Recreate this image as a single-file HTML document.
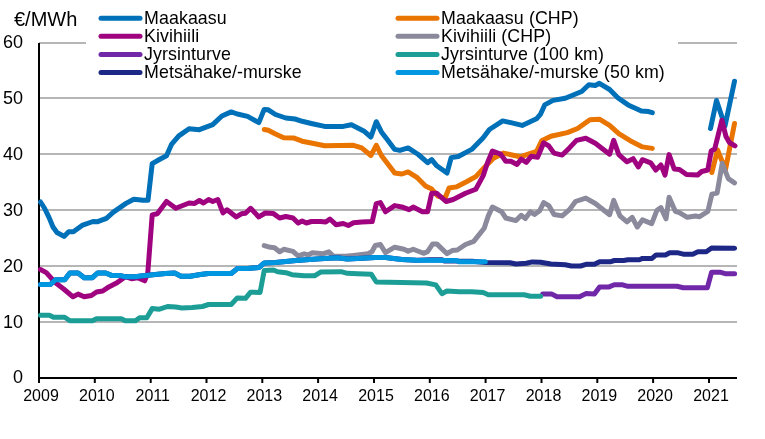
<!DOCTYPE html>
<html><head><meta charset="utf-8"><style>
html,body{margin:0;padding:0;background:#fff;}
svg{display:block;font-family:"Liberation Sans",sans-serif;will-change:transform;}
</style></head><body>
<svg width="765" height="439" viewBox="0 0 765 439">
<rect width="765" height="439" fill="#fff"/>
<g><line x1="39" y1="322.0" x2="737" y2="322.0" stroke="#b6b6b6" stroke-width="2"/>
<line x1="39" y1="266.0" x2="737" y2="266.0" stroke="#b6b6b6" stroke-width="2"/>
<line x1="39" y1="210.0" x2="737" y2="210.0" stroke="#b6b6b6" stroke-width="2"/>
<line x1="39" y1="154.0" x2="737" y2="154.0" stroke="#b6b6b6" stroke-width="2"/>
<line x1="39" y1="98.0" x2="737" y2="98.0" stroke="#b6b6b6" stroke-width="2"/>
<line x1="39" y1="43.0" x2="737" y2="43.0" stroke="#b6b6b6" stroke-width="2"/>
</g>
<line x1="39" y1="43" x2="39" y2="378" stroke="#000" stroke-width="2"/>
<line x1="38" y1="378" x2="737" y2="378" stroke="#000" stroke-width="2"/>
<g><line x1="39.0" y1="377" x2="39.0" y2="383" stroke="#000" stroke-width="2"/>
<line x1="94.8" y1="377" x2="94.8" y2="383" stroke="#000" stroke-width="2"/>
<line x1="150.7" y1="377" x2="150.7" y2="383" stroke="#000" stroke-width="2"/>
<line x1="206.5" y1="377" x2="206.5" y2="383" stroke="#000" stroke-width="2"/>
<line x1="262.3" y1="377" x2="262.3" y2="383" stroke="#000" stroke-width="2"/>
<line x1="318.1" y1="377" x2="318.1" y2="383" stroke="#000" stroke-width="2"/>
<line x1="374.0" y1="377" x2="374.0" y2="383" stroke="#000" stroke-width="2"/>
<line x1="429.8" y1="377" x2="429.8" y2="383" stroke="#000" stroke-width="2"/>
<line x1="485.6" y1="377" x2="485.6" y2="383" stroke="#000" stroke-width="2"/>
<line x1="541.5" y1="377" x2="541.5" y2="383" stroke="#000" stroke-width="2"/>
<line x1="597.3" y1="377" x2="597.3" y2="383" stroke="#000" stroke-width="2"/>
<line x1="653.1" y1="377" x2="653.1" y2="383" stroke="#000" stroke-width="2"/>
<line x1="709.0" y1="377" x2="709.0" y2="383" stroke="#000" stroke-width="2"/>
</g>
<g><path d="M40.5 202.0 L44.4 208.0 L49.1 217.6 L53.0 227.0 L57.0 232.5 L64.0 236.4 L68.7 231.7 L73.4 231.7 L82.0 225.4 L93.0 221.5 L97.7 221.7 L106.4 218.3 L113.4 212.1 L126.0 203.4 L133.8 199.2 L143.2 200.3 L148.0 200.3 L152.2 163.6 L159.4 159.5 L166.5 155.8 L171.7 144.1 L178.8 135.9 L189.1 128.7 L199.4 129.7 L212.7 124.6 L221.9 116.0 L231.2 111.9 L237.3 114.0 L247.6 116.4 L258.8 122.6 L264.2 109.4 L268.3 109.8 L275.5 114.5 L285.8 118.0 L295.0 119.0 L302.2 121.3 L312.4 123.7 L324.7 126.4 L343.2 126.4 L351.4 124.7 L363.7 130.9 L370.9 137.0 L376.3 121.7 L381.4 131.9 L387.6 140.1 L394.7 149.4 L399.9 150.4 L408.1 147.9 L418.3 154.5 L427.6 162.7 L431.7 159.6 L436.8 165.8 L447.0 173.0 L451.2 157.6 L458.3 156.5 L471.7 149.4 L483.2 137.7 L489.4 129.5 L502.7 120.9 L511.9 122.9 L522.2 125.4 L536.5 118.8 L540.6 114.1 L544.7 104.9 L553.0 100.4 L565.3 98.3 L581.7 91.5 L588.8 84.8 L595.3 85.4 L599.4 83.3 L609.6 89.5 L617.8 97.7 L628.1 104.9 L641.4 111.0 L648.6 111.6 L652.3 112.7" fill="none" stroke="#0070b8" stroke-width="5.0" stroke-linejoin="round" stroke-linecap="round"/>
<path d="M710.5 128.5 L716.5 100.5 L725.0 126.0 L734.5 81.3" fill="none" stroke="#0070b8" stroke-width="5.0" stroke-linejoin="round" stroke-linecap="round"/>
<path d="M264.3 129.5 L268.3 130.3 L275.5 134.0 L283.7 137.7 L294.0 138.1 L302.2 141.2 L312.4 143.2 L324.7 145.7 L353.5 145.3 L361.7 147.9 L370.9 155.5 L376.3 145.3 L381.4 155.5 L394.7 173.0 L401.9 174.0 L408.1 171.9 L417.3 177.7 L425.5 185.9 L431.7 189.0 L437.8 196.2 L445.0 198.2 L449.1 188.0 L456.3 186.9 L466.5 181.8 L475.8 176.6 L485.3 166.4 L493.5 158.2 L503.7 153.1 L520.1 156.8 L536.5 151.5 L541.7 140.8 L550.9 136.3 L567.3 132.6 L577.6 128.5 L589.9 119.8 L599.4 119.2 L609.6 125.4 L618.8 133.6 L632.2 141.8 L642.4 146.9 L652.3 148.4" fill="none" stroke="#e97400" stroke-width="5.0" stroke-linejoin="round" stroke-linecap="round"/>
<path d="M711.9 172.5 L717.5 150.0 L725.5 169.5 L734.5 123.5" fill="none" stroke="#e97400" stroke-width="5.0" stroke-linejoin="round" stroke-linecap="round"/>
<path d="M40.5 269.5 L46.3 272.6 L55.5 282.8 L63.7 289.0 L73.0 296.8 L78.1 294.1 L84.2 296.8 L91.4 295.5 L96.5 292.0 L102.7 291.0 L108.8 286.9 L117.0 282.8 L125.3 276.7 L131.4 278.7 L137.6 277.7 L144.7 280.8 L147.8 272.6 L152.2 214.9 L157.3 213.8 L166.5 201.5 L175.8 208.3 L189.1 203.0 L194.2 203.6 L199.4 200.5 L203.5 203.0 L208.6 199.5 L212.7 201.5 L217.8 199.5 L223.0 212.8 L227.0 209.7 L236.3 216.9 L241.4 213.8 L245.5 213.2 L250.6 208.3 L258.8 216.9 L265.3 213.0 L273.5 213.6 L279.6 218.0 L285.8 216.5 L293.0 218.0 L298.1 223.1 L302.2 221.0 L306.3 223.0 L311.4 221.5 L320.6 221.5 L325.8 222.0 L329.9 219.0 L336.0 224.7 L343.2 223.5 L348.3 225.5 L353.5 222.7 L361.7 222.0 L372.2 221.6 L376.3 203.6 L380.4 202.6 L385.5 211.8 L394.7 205.6 L403.0 207.3 L409.1 209.7 L413.2 207.1 L422.4 211.8 L427.6 211.8 L431.7 193.3 L436.8 193.3 L446.0 201.5 L453.2 199.5 L465.5 193.3 L475.8 189.2 L483.2 175.6 L487.3 163.3 L492.4 151.0 L500.6 154.1 L505.8 161.3 L510.9 161.3 L517.0 164.4 L521.2 159.2 L526.3 162.3 L531.4 156.2 L537.6 157.2 L543.7 142.8 L548.8 145.9 L554.0 153.1 L562.2 155.1 L569.4 147.9 L576.5 140.4 L585.8 138.3 L595.3 143.3 L609.6 154.2 L613.7 140.3 L618.8 154.6 L627.0 161.8 L633.2 158.7 L638.3 166.9 L642.4 159.7 L650.6 162.8 L655.8 170.0 L660.9 164.9 L665.0 175.1 L669.1 154.6 L674.2 169.0 L679.4 169.4 L686.5 174.6 L697.6 175.0 L701.7 171.5 L707.8 170.0 L711.2 151.0 L714.7 149.0 L721.9 120.2 L726.0 136.6 L729.4 142.5 L735.0 145.8" fill="none" stroke="#a0037f" stroke-width="5.0" stroke-linejoin="round" stroke-linecap="round"/>
<path d="M264.2 245.6 L270.4 247.3 L274.5 247.7 L279.6 251.8 L283.7 249.3 L293.0 251.4 L298.1 255.9 L304.2 253.8 L308.3 254.9 L312.4 252.8 L322.7 253.8 L328.8 251.8 L333.0 255.9 L345.3 256.3 L353.5 255.5 L367.8 253.8 L371.9 251.8 L375.3 245.5 L380.4 244.5 L385.5 252.7 L394.7 247.2 L404.0 249.2 L408.1 251.3 L413.2 249.2 L423.5 253.3 L427.6 251.7 L432.7 243.9 L436.8 243.9 L447.0 253.7 L452.2 250.6 L457.3 250.0 L465.5 244.5 L473.7 241.4 L484.2 228.2 L488.3 215.9 L492.4 207.1 L501.7 211.8 L505.8 218.0 L516.0 220.6 L521.2 215.3 L525.3 218.6 L530.4 211.8 L534.5 214.5 L539.6 210.8 L543.7 202.6 L548.8 205.6 L554.0 214.5 L562.2 215.9 L569.4 209.7 L575.5 201.5 L585.8 198.1 L595.3 203.5 L609.6 214.7 L613.7 200.4 L619.9 215.8 L627.0 221.9 L632.2 217.4 L637.3 227.1 L642.4 219.9 L651.7 223.6 L656.8 210.6 L660.9 207.6 L666.0 218.8 L669.1 197.3 L675.3 211.3 L679.4 212.6 L687.3 217.3 L695.5 216.0 L699.6 216.7 L707.8 211.5 L711.9 194.1 L717.1 193.1 L722.2 163.3 L728.3 178.7 L734.5 182.8" fill="none" stroke="#8a8a9c" stroke-width="5.0" stroke-linejoin="round" stroke-linecap="round"/>
<path d="M542.7 294.1 L551.9 294.1 L557.0 296.8 L579.6 296.8 L585.8 293.6 L594.4 294.0 L599.6 286.9 L609.1 286.9 L614.3 284.8 L622.7 284.8 L627.9 286.3 L677.0 286.3 L683.3 287.7 L707.4 287.7 L711.6 272.2 L719.9 272.2 L725.2 273.7 L734.6 273.7" fill="none" stroke="#7028a8" stroke-width="5.0" stroke-linejoin="round" stroke-linecap="round"/>
<path d="M40.5 315.2 L49.4 315.2 L53.5 317.3 L64.7 317.3 L69.9 320.8 L92.4 320.8 L96.5 318.7 L121.2 318.7 L125.3 320.8 L135.5 320.8 L139.6 317.7 L146.8 317.7 L152.2 308.6 L159.4 309.2 L167.6 306.5 L175.8 307.1 L181.9 307.9 L192.2 307.5 L202.4 306.5 L208.6 304.5 L231.2 304.5 L237.3 297.9 L245.5 298.3 L250.6 292.2 L260.1 292.4 L264.2 270.6 L273.5 270.0 L277.6 271.7 L285.8 272.7 L291.9 274.7 L304.2 275.8 L314.5 275.8 L320.6 272.1 L341.2 271.7 L347.3 273.3 L357.6 273.7 L371.2 274.2 L376.3 282.0 L426.5 283.0 L435.8 284.9 L441.9 293.7 L447.0 291.0 L459.4 291.7 L471.7 291.7 L483.2 292.5 L488.3 294.7 L524.2 294.7 L530.4 296.2 L540.6 296.2" fill="none" stroke="#1c9e96" stroke-width="5.0" stroke-linejoin="round" stroke-linecap="round"/>
<path d="M40.5 284.5 L50.4 284.5 L55.5 279.7 L64.7 279.7 L69.9 273.0 L78.1 273.0 L84.2 277.7 L92.4 277.7 L97.6 273.0 L105.8 273.0 L111.9 275.6 L120.1 275.6 L125.3 276.7 L135.5 276.7 L140.6 276.0 L155.3 274.5 L165.5 273.5 L174.7 273.1 L180.9 276.2 L190.1 276.2 L200.4 274.5 L208.6 273.5 L231.2 273.5 L237.3 268.6 L247.6 268.6 L258.8 267.6 L264.2 263.0 L275.5 262.6 L296.0 260.4 L316.5 259.0 L337.0 257.7 L347.3 259.0 L357.6 258.4 L375.3 257.4 L385.5 257.4 L401.9 259.5 L416.3 260.3 L430.0 259.8 L442.0 259.8 L444.5 261.0 L456.5 261.0 L459.0 261.2 L472.0 261.2 L485.3 262.6 L509.9 262.7 L516.0 264.0 L526.3 263.3 L532.4 261.9 L540.6 262.3 L550.9 264.0 L565.3 264.8 L571.4 266.0 L580.6 266.0 L586.8 264.2 L594.4 264.3 L599.6 261.8 L610.1 261.8 L614.3 260.5 L623.7 260.5 L627.9 259.7 L639.4 259.7 L642.5 258.4 L652.0 258.4 L656.1 254.9 L665.5 254.9 L669.7 252.8 L678.1 252.8 L683.3 254.2 L692.7 254.2 L698.0 251.7 L706.3 251.7 L711.6 248.0 L734.6 248.3" fill="none" stroke="#1d2886" stroke-width="5.0" stroke-linejoin="round" stroke-linecap="round"/>
<path d="M40.5 284.5 L50.4 284.5 L55.5 279.7 L64.7 279.7 L69.9 273.0 L78.1 273.0 L84.2 277.7 L92.4 277.7 L97.6 273.0 L105.8 273.0 L111.9 275.6 L120.1 275.6 L125.3 276.7 L135.5 276.7 L140.6 276.0 L155.3 274.5 L165.5 273.5 L174.7 273.1 L180.9 276.2 L190.1 276.2 L200.4 274.5 L208.6 273.5 L231.2 273.5 L237.3 268.6 L247.6 268.6 L258.8 267.6 L264.2 263.0 L275.5 262.6 L296.0 260.4 L316.5 259.0 L337.0 257.7 L347.3 259.0 L357.6 258.4 L375.3 257.4 L385.5 257.4 L401.9 259.5 L416.3 260.3 L456.5 260.5 L459.0 261.8 L485.3 261.8" fill="none" stroke="#0096e0" stroke-width="5.0" stroke-linejoin="round" stroke-linecap="round"/>
</g>
<g font-size="16" fill="#000"><text x="23" y="382.8" text-anchor="end" font-size="18">0</text>
<text x="23" y="327.8" text-anchor="end" font-size="18">10</text>
<text x="23" y="271.8" text-anchor="end" font-size="18">20</text>
<text x="23" y="215.8" text-anchor="end" font-size="18">30</text>
<text x="23" y="159.8" text-anchor="end" font-size="18">40</text>
<text x="23" y="103.8" text-anchor="end" font-size="18">50</text>
<text x="23" y="47.8" text-anchor="end" font-size="18">60</text>
<text x="41.0" y="401" text-anchor="middle">2009</text>
<text x="96.8" y="401" text-anchor="middle">2010</text>
<text x="152.7" y="401" text-anchor="middle">2011</text>
<text x="208.5" y="401" text-anchor="middle">2012</text>
<text x="264.3" y="401" text-anchor="middle">2013</text>
<text x="320.1" y="401" text-anchor="middle">2014</text>
<text x="376.0" y="401" text-anchor="middle">2015</text>
<text x="431.8" y="401" text-anchor="middle">2016</text>
<text x="487.6" y="401" text-anchor="middle">2017</text>
<text x="543.5" y="401" text-anchor="middle">2018</text>
<text x="599.3" y="401" text-anchor="middle">2019</text>
<text x="655.1" y="401" text-anchor="middle">2020</text>
<text x="711.0" y="401" text-anchor="middle">2021</text>
</g>
<g font-size="17.8" letter-spacing="0.1" fill="#000"><rect x="86" y="4" width="592" height="76" fill="#fff"/>
<line x1="101.0" y1="18.3" x2="140.0" y2="18.3" stroke="#0070b8" stroke-width="5" stroke-linecap="round"/>
<text x="144.0" y="23.7">Maakaasu</text>
<line x1="101.0" y1="36.3" x2="140.0" y2="36.3" stroke="#a0037f" stroke-width="5" stroke-linecap="round"/>
<text x="144.0" y="41.7">Kivihiili</text>
<line x1="101.0" y1="54.4" x2="140.0" y2="54.4" stroke="#7028a8" stroke-width="5" stroke-linecap="round"/>
<text x="144.0" y="59.8">Jyrsinturve</text>
<line x1="101.0" y1="72.4" x2="140.0" y2="72.4" stroke="#1d2886" stroke-width="5" stroke-linecap="round"/>
<text x="144.0" y="77.8">Metsähake/-murske</text>
<line x1="398.0" y1="18.3" x2="437.0" y2="18.3" stroke="#e97400" stroke-width="5" stroke-linecap="round"/>
<text x="441.0" y="23.7">Maakaasu (CHP)</text>
<line x1="398.0" y1="36.3" x2="437.0" y2="36.3" stroke="#8a8a9c" stroke-width="5" stroke-linecap="round"/>
<text x="441.0" y="41.7">Kivihiili (CHP)</text>
<line x1="398.0" y1="54.4" x2="437.0" y2="54.4" stroke="#1c9e96" stroke-width="5" stroke-linecap="round"/>
<text x="441.0" y="59.8">Jyrsinturve (100 km)</text>
<line x1="398.0" y1="72.4" x2="437.0" y2="72.4" stroke="#0096e0" stroke-width="5" stroke-linecap="round"/>
<text x="441.0" y="77.8">Metsähake/-murske (50 km)</text>
</g>
<text x="14" y="25.6" font-size="20" fill="#000">€/MWh</text>
</svg>
</body></html>
